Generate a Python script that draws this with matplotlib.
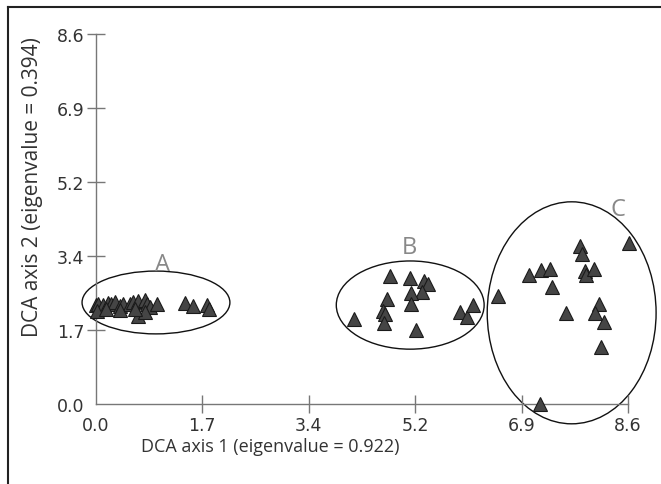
import matplotlib
matplotlib.use("Agg")
import matplotlib.pyplot as plt
from matplotlib.patches import Ellipse
from matplotlib.lines import Line2D

plt.rcParams['font.family'] = ['Open Sans', 'DejaVu Sans']

# DCA site scores
a_x = [0.00, 0.04, 0.12, 0.20, 0.25, 0.31, 0.39, 0.44, 0.55, 0.60, 0.68, 0.79, 0.82,
       0.87, 0.98, 0.68, 0.79, 0.63, 0.01, 0.17, 0.39, 1.44, 1.57, 1.79, 1.83]
a_y = [2.29, 2.33, 2.29, 2.35, 2.33, 2.38, 2.27, 2.33, 2.33, 2.38, 2.40, 2.42, 2.33,
       2.25, 2.33, 2.05, 2.13, 2.21, 2.17, 2.21, 2.19, 2.35, 2.27, 2.29, 2.21]
b_x = [4.75, 5.07, 5.30, 5.37, 5.27, 5.09, 4.70, 5.10, 4.64, 4.67, 4.66, 4.17,
       5.17, 5.88, 5.99, 6.10]
b_y = [2.98, 2.92, 2.87, 2.79, 2.61, 2.59, 2.44, 2.33, 2.17, 2.09, 1.88, 1.98,
       1.73, 2.15, 2.02, 2.29]
c_x = [8.62, 7.82, 7.85, 7.00, 7.20, 7.34, 7.38, 7.90, 7.92, 8.05, 6.50, 7.60,
       8.14, 8.06, 8.21, 8.16, 7.18]
c_y = [3.74, 3.67, 3.49, 3.00, 3.12, 3.14, 2.71, 3.10, 3.00, 3.14, 2.52, 2.12,
       2.33, 2.12, 1.90, 1.33, 0.00]

# group outlines: centre x, centre y, width, height
groups = ['A', 'B', 'C']
ell_cx = [0.97, 5.08, 7.69]
ell_cy = [2.36, 2.30, 2.12]
ell_w = [2.39, 2.39, 2.73]
ell_h = [1.46, 2.05, 5.16]
lab_x = [1.08, 5.06, 8.44]
lab_y = [3.25, 3.65, 4.53]

ticks = [0.0, 1.72, 3.44, 5.16, 6.88, 8.6]
tick_labels = ['0.0', '1.7', '3.4', '5.2', '6.9', '8.6']

fig = plt.figure(figsize=(6.61, 4.85), dpi=100)
ax = fig.add_axes([0.1452, 0.1649, 0.8048, 0.7629])

for xs, ys in [(a_x, a_y), (b_x, b_y), (c_x, c_y)]:
    ax.plot(xs, ys, '^', ms=10.5, mfc='#454545', mec='#1a1a1a', mew=0.8,
            clip_on=False, zorder=3)

for i in range(3):
    ax.add_patch(Ellipse((ell_cx[i], ell_cy[i]), ell_w[i], ell_h[i], fill=False,
                         ec='#111111', lw=1.0, clip_on=False))
    ax.text(lab_x[i], lab_y[i], groups[i], color='#888888', fontsize=17,
            ha='center', va='center')

ax.set_xlim(0, 8.6)
ax.set_ylim(0, 8.6)
ax.set_xticks(ticks)
ax.set_yticks(ticks)
ax.set_xticklabels(tick_labels, family='DejaVu Sans')
ax.set_yticklabels(tick_labels, family='DejaVu Sans')
for s in ['top', 'right']:
    ax.spines[s].set_visible(False)
for s in ['left', 'bottom']:
    ax.spines[s].set_color('#777777')
    ax.spines[s].set_linewidth(1.0)
ax.tick_params(direction='inout', length=13, width=1.0, color='#777777',
               labelsize=12.5, labelcolor='#333333', pad=2)
ax.xaxis.get_major_ticks()[0].tick1line.set_visible(False)
ax.yaxis.get_major_ticks()[0].tick1line.set_visible(False)
ax.patch.set_alpha(0)

fig.text(270 / 661, 1 - 447 / 485, 'DCA axis 1 (eigenvalue = 0.922)',
         ha='center', va='center', fontsize=13, color='#333333')
fig.text(33 / 661, 1 - 187 / 485, 'DCA axis 2 (eigenvalue = 0.394)',
         ha='center', va='center', rotation=90, fontsize=15, color='#333333')

# frame lines at the top and left edge
fig.add_artist(Line2D([8 / 661, 1], [1 - 8 / 485, 1 - 8 / 485], color='#222222', lw=1.5))
fig.add_artist(Line2D([8 / 661, 8 / 661], [0, 1 - 8 / 485], color='#222222', lw=1.5))

fig.savefig('out.png', dpi=100)
